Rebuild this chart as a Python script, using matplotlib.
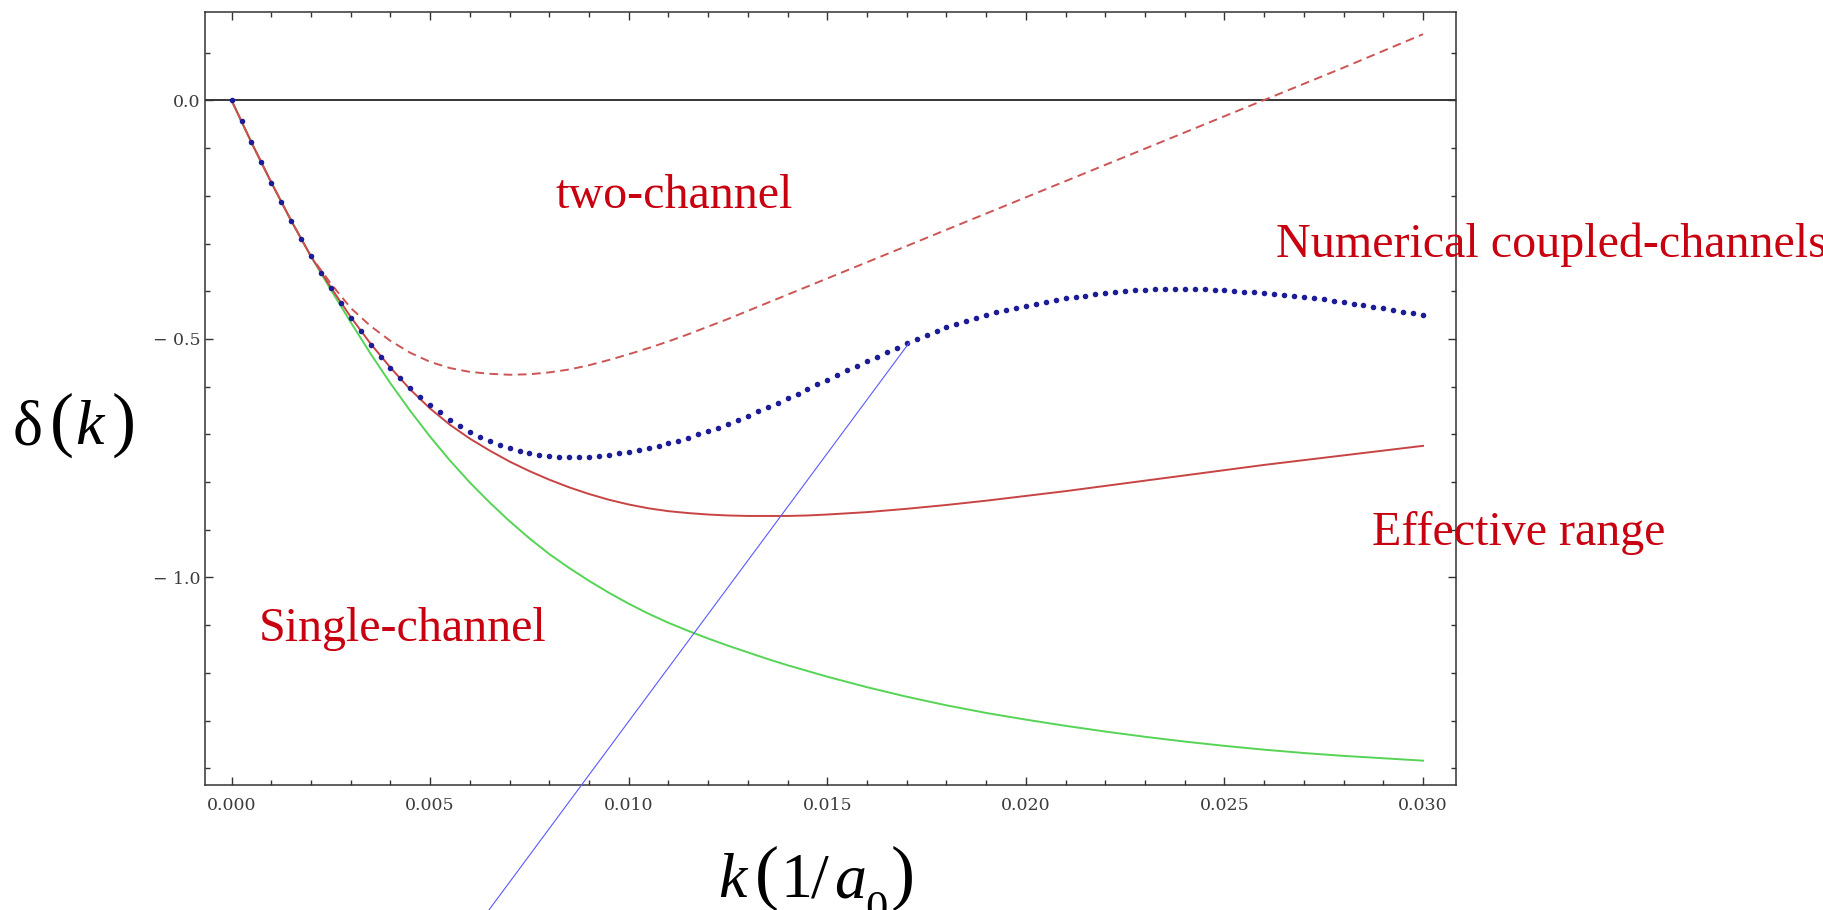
import numpy as np
import matplotlib
matplotlib.use("Agg")
import matplotlib.pyplot as plt
from matplotlib.ticker import MultipleLocator, FixedLocator, FixedFormatter

W, H = 1823, 910

# ---------------- data ----------------
k_line = [0.0, 0.0005, 0.001, 0.0015, 0.002, 0.0025, 0.003, 0.0035, 0.004, 0.0045,
          0.005, 0.0055, 0.006, 0.0065, 0.007, 0.0075, 0.008, 0.0085, 0.009, 0.0095,
          0.010, 0.0105, 0.011, 0.0115, 0.012, 0.0125, 0.013, 0.0135, 0.014, 0.0145,
          0.015, 0.016, 0.017, 0.018, 0.019, 0.020, 0.021, 0.022, 0.023, 0.024,
          0.025, 0.026, 0.027, 0.028, 0.029, 0.030]

single_channel = [0.0, -0.088, -0.172, -0.252, -0.327, -0.397, -0.465, -0.531, -0.593, -0.651,
                  -0.705, -0.755, -0.801, -0.843, -0.882, -0.918, -0.951, -0.980, -1.007, -1.032,
                  -1.055, -1.076, -1.095, -1.112, -1.128, -1.143, -1.157, -1.171, -1.184, -1.196,
                  -1.208, -1.230, -1.250, -1.268, -1.284, -1.298, -1.311, -1.323, -1.334, -1.344,
                  -1.353, -1.361, -1.368, -1.374, -1.379, -1.384]

effective_range = [0.0, -0.088, -0.172, -0.252, -0.327, -0.392, -0.454, -0.510, -0.560, -0.606,
                   -0.646, -0.680, -0.709, -0.734, -0.757, -0.777, -0.795, -0.811, -0.825, -0.837,
                   -0.847, -0.855, -0.861, -0.865, -0.868, -0.870, -0.871, -0.871, -0.871, -0.870,
                   -0.868, -0.863, -0.856, -0.848, -0.839, -0.829, -0.819, -0.808, -0.797, -0.786,
                   -0.775, -0.764, -0.754, -0.744, -0.734, -0.724]

two_channel = [0.0, -0.088, -0.172, -0.252, -0.327, -0.384, -0.435, -0.473, -0.504, -0.529,
               -0.548, -0.561, -0.569, -0.573, -0.575, -0.574, -0.570, -0.564, -0.555, -0.544,
               -0.532, -0.519, -0.505, -0.490, -0.474, -0.458, -0.441, -0.424, -0.407, -0.390,
               -0.373, -0.339, -0.305, -0.271, -0.237, -0.203, -0.169, -0.135, -0.101, -0.067,
               -0.033, 0.001, 0.035, 0.069, 0.104, 0.139]

# numerical coupled-channels points, sampled every 0.00025 in k from 0 to 0.030
k_num = np.linspace(0.0, 0.030, 121)
numerical = [0.0, -0.044, -0.088, -0.130, -0.172, -0.212, -0.252, -0.290, -0.327, -0.361,
             -0.393, -0.425, -0.455, -0.484, -0.512, -0.537, -0.560, -0.582, -0.602, -0.621,
             -0.638, -0.654, -0.669, -0.682, -0.694, -0.705, -0.714, -0.722, -0.729, -0.735,
             -0.740, -0.743, -0.746, -0.747, -0.748, -0.748, -0.747, -0.745, -0.743, -0.740,
             -0.737, -0.733, -0.729, -0.724, -0.719, -0.713, -0.707, -0.700, -0.693, -0.686,
             -0.678, -0.670, -0.661, -0.652, -0.643, -0.634, -0.624, -0.615, -0.605, -0.595,
             -0.585, -0.576, -0.566, -0.557, -0.547, -0.538, -0.528, -0.518, -0.509, -0.500,
             -0.491, -0.483, -0.475, -0.468, -0.462, -0.456, -0.450, -0.444, -0.439, -0.434,
             -0.430, -0.426, -0.422, -0.418, -0.415, -0.412, -0.409, -0.406, -0.404, -0.402,
             -0.400, -0.398, -0.397, -0.396, -0.396, -0.395, -0.395, -0.395, -0.396, -0.397,
             -0.398, -0.399, -0.401, -0.402, -0.404, -0.406, -0.408, -0.410, -0.412, -0.414,
             -0.417, -0.420, -0.423, -0.426, -0.429, -0.432, -0.436, -0.439, -0.443, -0.446,
             -0.450]

x_ticks = [0.000, 0.005, 0.010, 0.015, 0.020, 0.025, 0.030]
x_tick_labels = ["0.000", "0.005", "0.010", "0.015", "0.020", "0.025", "0.030"]
y_ticks = [0.0, -0.5, -1.0]
y_tick_labels = ["0.0", "\u2212 0.5", "\u2212 1.0"]

# point on the numerical curve where the thin blue pointer line starts
pointer_k, pointer_delta = 0.01707, -0.507

# ---------------- figure ----------------
fig = plt.figure(figsize=(W / 100, H / 100), dpi=100)
fig.patch.set_facecolor("white")

def fx(px):
    return px / W

def fy(py):
    return 1 - py / H

ax_l, ax_r, ax_t, ax_b = 205, 1456, 12, 784.5
ax = fig.add_axes([fx(ax_l), fy(ax_b), (ax_r - ax_l) / W, (ax_b - ax_t) / H])
ax.set_xlim(-0.00067, 0.03083)
ax.set_ylim(-1.434, 0.1855)

ax.axhline(0, color="black", lw=1.1, zorder=1)

ax.plot(k_line, single_channel, color="#55d455", lw=1.4, zorder=2)
ax.plot(k_line, effective_range, color="#c84444", lw=1.4, zorder=3)
ax.plot(k_line, two_channel, color="#cc5555", lw=1.4, dashes=(4.5, 2.8), zorder=3)
ax.plot(k_num, numerical, linestyle="none", marker="o", ms=4.0, mew=0,
        color="#1c1c96", zorder=4)

# ticks
ax.xaxis.set_major_locator(FixedLocator(x_ticks))
ax.xaxis.set_major_formatter(FixedFormatter(x_tick_labels))
ax.xaxis.set_minor_locator(MultipleLocator(0.001))
ax.yaxis.set_major_locator(FixedLocator(y_ticks))
ax.yaxis.set_major_formatter(FixedFormatter(y_tick_labels))
ax.yaxis.set_minor_locator(MultipleLocator(0.1))
ax.tick_params(which="both", direction="in", top=True, right=True,
               color="#333333", width=1.0)
ax.tick_params(which="major", length=6, labelsize=12.5, labelcolor="#3c3c3c")
ax.tick_params(axis="x", which="major", pad=9)
ax.tick_params(axis="y", which="major", pad=3.5)
ax.tick_params(which="minor", length=3.8)
for lab in ax.get_xticklabels() + ax.get_yticklabels():
    lab.set_family("DejaVu Serif")
for sp in ax.spines.values():
    sp.set_color("#333333")
    sp.set_linewidth(1.1)

# pointer line going out of the axes
ax.annotate("", xy=(pointer_k, pointer_delta), xycoords="data",
            xytext=(fx(483), fy(918)), textcoords="figure fraction",
            arrowprops=dict(arrowstyle="-", color="#5a5aff", lw=0.8,
                            shrinkA=0, shrinkB=0),
            annotation_clip=False, zorder=5)

# curve labels
red = "#c8000f"
lab_kw = dict(family="Liberation Serif", fontsize=34.6, color=red, va="baseline", ha="left")
fig.text(fx(556), fy(208), "two-channel", **lab_kw)
fig.text(fx(1276), fy(257), "Numerical coupled-channels", **lab_kw)
fig.text(fx(1372), fy(545), "Effective range", **lab_kw)
fig.text(fx(259), fy(641), "Single-channel", **lab_kw)

# axis labels, Mathematica-like spacing
ser = "Liberation Serif"
par_kw = dict(family=ser, fontsize=52, va="baseline", ha="left", fontweight="light")
fig.text(fx(13), fy(444), "\u03b4", family=ser, fontsize=46, va="baseline", ha="left")
fig.text(fx(50), fy(443), "(", **par_kw)
fig.text(fx(75), fy(444), "k", family=ser, style="italic", fontsize=46, va="baseline", ha="left")
fig.text(fx(112), fy(443), ")", **par_kw)

fig.text(fx(718), fy(897), "k", family=ser, style="italic", fontsize=46, va="baseline", ha="left")
fig.text(fx(755), fy(896), "(", **par_kw)
fig.text(fx(780), fy(897), "1", family=ser, fontsize=46, va="baseline", ha="left")
fig.text(fx(811), fy(897), "/", family=ser, fontsize=46, va="baseline", ha="left")
fig.text(fx(834), fy(897), "a", family=ser, style="italic", fontsize=46, va="baseline", ha="left")
fig.text(fx(865), fy(921), "0", family=ser, fontsize=32, va="baseline", ha="left")
fig.text(fx(891), fy(896), ")", **par_kw)

fig.savefig("out.png", dpi=100)
